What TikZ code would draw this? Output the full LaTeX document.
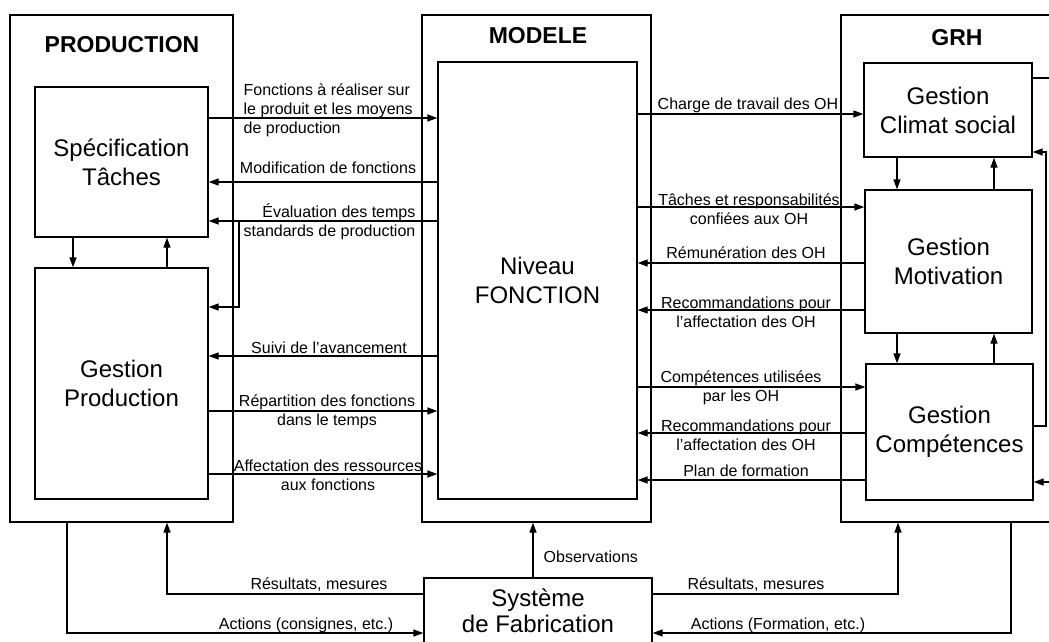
\documentclass[tikz,border=0pt]{standalone}
\usepackage{fontspec}
\setmainfont{Liberation Sans}
\usetikzlibrary{arrows.meta}

\begin{document}
\begin{tikzpicture}[x=1pt,y=-1pt,line width=1.3pt,
  grp/.style={draw,inner sep=0pt,minimum height=507pt},
  blk/.style={draw,inner sep=0pt,align=center,font=\fontsize{24}{29}\selectfont},
  ttl/.style={inner sep=0pt,font=\fontsize{23}{26}\selectfont\bfseries},
  lbl/.style={inner sep=0pt,align=center,font=\fontsize{16}{19}\selectfont},
  arr/.style={-{Triangle[length=10pt,width=7pt]}},
]
\useasboundingbox (0,0) rectangle (1049,641);
\clip (0,0) rectangle (1049,641);
% groups
\node[grp,minimum width=223pt] (prod) at (121.5,268.5) {};
\node[grp,minimum width=229pt] (mod) at (536.5,268.5) {};
\node[grp,minimum width=232pt] (grh) at (957,268.5) {};
\node[ttl] (tprod) at (122,45) {PRODUCTION};
\node[ttl] (tmod) at (538,36) {MODELE};
\node[ttl] (tgrh) at (957,38) {GRH};
% blocks
\node[blk,minimum width=173pt,minimum height=150pt] (spec) at (121.5,162) {Spécification\\Tâches};
\node[blk,minimum width=173pt,minimum height=231pt] (gp) at (121.5,383.5) {Gestion\\Production};
\node[blk,minimum width=199pt,minimum height=437pt] (nf) at (537.5,280.5) {Niveau\\FONCTION};
\node[blk,minimum width=168pt,minimum height=94pt] (cs) at (948,110) {Gestion\\Climat social};
\node[blk,minimum width=167pt,minimum height=143pt] (mot) at (948.5,261.5) {Gestion\\Motivation};
\node[blk,minimum width=167pt,minimum height=136pt] (comp) at (949.5,432) {Gestion\\Compétences};
\node[blk,minimum width=228pt,minimum height=66pt,font=\fontsize{24}{26}\selectfont] (sys) at (538,611) {Système\\de Fabrication};
% inside the groups
\draw[arr] (spec.south -| 73,0) -- (gp.north -| 73,0);
\draw[arr] (gp.north -| 167,0) -- (spec.south -| 167,0);
\draw[arr] (cs.south -| 897,0) -- (mot.north -| 897,0);
\draw[arr] (mot.north -| 994,0) -- (cs.south -| 994,0);
\draw[arr] (mot.south -| 897,0) -- (comp.north -| 897,0);
\draw[arr] (comp.north -| 994,0) -- (mot.south -| 994,0);
% production <-> modele
\foreach \s/\t/\y in {spec.east/nf.west/118,nf.west/spec.east/182,nf.west/spec.east/221,
                      nf.west/gp.east/356,gp.east/nf.west/411,gp.east/nf.west/474}
  \draw[arr] (\s |- 0,\y) -- (\t |- 0,\y);
\coordinate (ev) at (239,221);
\draw[arr] (ev) |- (gp.east |- 0,307);
% modele <-> grh
\foreach \s/\t/\y in {nf.east/cs.west/114,nf.east/mot.west/207,mot.west/nf.east/263,
                      mot.west/nf.east/310,nf.east/comp.west/387,comp.west/nf.east/433,
                      comp.west/nf.east/480}
  \draw[arr] (\s |- 0,\y) -- (\t |- 0,\y);
\draw[arr] (comp.east |- 0,426) -| (1046,152) -- (cs.east |- 0,152);
\draw[arr] (cs.east |- 0,78) -| (1060,482) -- (comp.east |- 0,482);
% fabrication
\draw[arr] (sys.north -| 533,0) -- (mod.south -| 533,0);
\draw[arr] (sys.west |- 0,594) -| (prod.south -| 167,0);
\draw[arr] (prod.south -| 67,0) |- (sys.west |- 0,633);
\draw[arr] (sys.east |- 0,594) -| (grh.south -| 898,0);
\draw[arr] (grh.south -| 1011,0) |- (sys.east |- 0,633);
% labels
\node[lbl,anchor=west,align=left] (lfct) at (243,110) {Fonctions à réaliser sur\\le produit et les moyens\\de production};
\node[lbl] (lmod) at (328,168) {Modification de fonctions};
\node[lbl,anchor=east,align=right] (leval) at (416,221.5) {Évaluation des temps\\standards de production};
\node[lbl] (lsuivi) at (329,348) {Suivi de l’avancement};
\node[lbl] (lrep) at (327,412) {Répartition des fonctions\\dans le temps};
\node[lbl] (laff) at (328,475) {Affectation des ressources\\aux fonctions};
\node[lbl] (lcharge) at (748,105) {Charge de travail des OH};
\node[lbl] (ltaches) at (749,209.5) {Tâches et responsabilités\\confiées aux OH};
\node[lbl] (lremu) at (746,253) {Rémunération des OH};
\node[lbl] (lreco) at (746,312) {Recommandations pour\\l’affectation des OH};
\node[lbl] (lcomp) at (741,387.5) {Compétences utilisées\\par les OH};
\node[lbl] (lrecob) at (746,435) {Recommandations pour\\l’affectation des OH};
\node[lbl] (lplan) at (746,471) {Plan de formation};
\node[lbl,anchor=west] (lobs) at (543,557) {Observations};
\node[lbl] (lresa) at (319,585) {Résultats, mesures};
\node[lbl] (lacta) at (306,625) {Actions (consignes, etc.)};
\node[lbl] (lresb) at (756,585) {Résultats, mesures};
\node[lbl] (lactb) at (778,625) {Actions (Formation, etc.)};
\end{tikzpicture}
\end{document}
